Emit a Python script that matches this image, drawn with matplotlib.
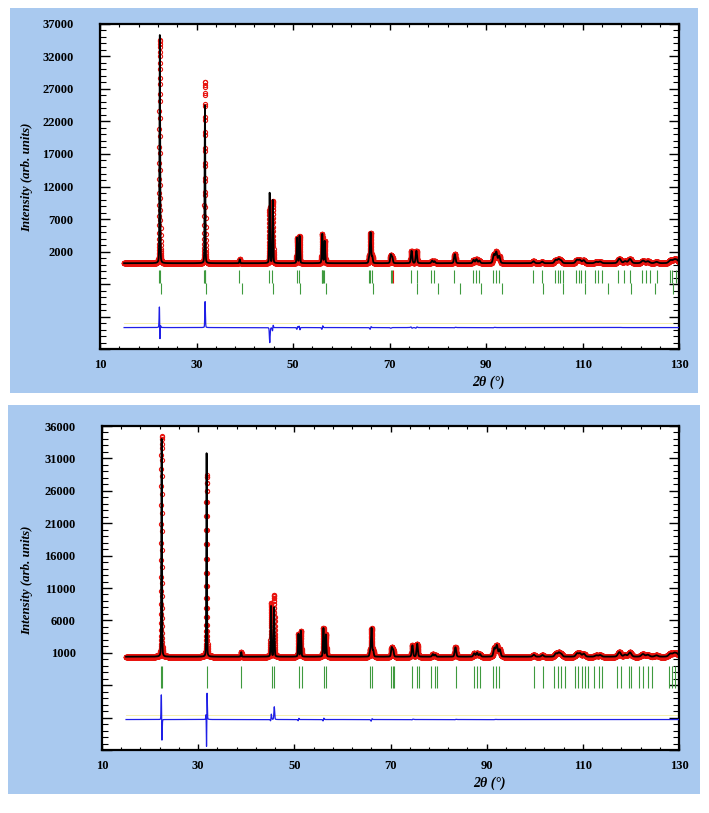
import numpy as np
import matplotlib.pyplot as plt
from matplotlib.patches import Rectangle
from matplotlib.ticker import FixedLocator, FixedFormatter, MultipleLocator

# Measurement grid (2theta, degrees)
tt_start, tt_end, tt_step = 15.0, 130.0, 0.01

# Upper pattern: reflections
top_pos = [22.40, 31.75, 38.95, 45.15, 45.80, 50.85, 51.35, 56.05, 56.55,
           65.75, 66.05, 66.40, 70.25, 70.55, 74.55, 75.55, 78.80, 79.30,
           83.50, 87.40, 88.00, 88.60, 91.60, 92.10, 92.70, 99.80, 101.60,
           104.40, 105.00, 105.50, 108.80, 109.40, 110.20, 112.80, 113.60,
           117.60, 118.80, 119.80, 122.50, 123.50, 125.30, 128.20, 129.00, 129.60]
top_obs = [34300, 28000, 600, 8600, 9600, 3800, 4100, 4500, 3400,
           800, 4600, 1000, 1200, 900, 1900, 1900, 400, 300,
           1400, 500, 600, 400, 1300, 1700, 1100, 300, 250,
           500, 600, 400, 500, 500, 450, 200, 250,
           700, 300, 650, 400, 300, 200, 450, 500, 400]
top_calc = [35100, 24300, 600, 10800, 9700, 3900, 4200, 4500, 3400,
            800, 4700, 1000, 1300, 900, 1900, 1900, 400, 300,
            1400, 500, 600, 400, 1300, 1700, 1100, 300, 250,
            500, 600, 400, 500, 500, 450, 200, 250,
            700, 300, 650, 400, 300, 200, 450, 500, 400]
top_shift = [-0.007, 0.004, 0, -0.006, 0.006, 0.008, -0.01, 0.01, 0,
             0, 0.008, 0, 0, 0, -0.012, 0.012, 0, 0,
             0.008, 0, 0, 0, 0.008, 0, 0, 0, 0,
             0, 0, 0, 0, 0, 0, 0, 0,
             0.012, 0, 0, 0, 0, 0, 0, 0, 0]
top_fwhm = [0.16, 0.16, 0.18, 0.19, 0.19, 0.21, 0.21, 0.23, 0.23,
            0.26, 0.26, 0.26, 0.3, 0.3, 0.32, 0.32, 0.34, 0.34,
            0.36, 0.4, 0.4, 0.4, 0.44, 0.44, 0.44, 0.5, 0.5,
            0.55, 0.55, 0.55, 0.6, 0.6, 0.6, 0.65, 0.65,
            0.7, 0.7, 0.7, 0.75, 0.75, 0.75, 0.8, 0.8, 0.8]
top_fwhm_obs = list(top_fwhm)
top_fwhm_obs[0] = 0.172
top_bg = 200

# Bragg positions, upper pattern (two rows) and one extra tick
top_row1 = [22.3, 22.5, 31.55, 31.7, 31.85, 38.9, 45.1, 45.6, 50.8, 51.2,
            55.9, 56.1, 56.3, 56.5, 65.7, 66.0, 66.3, 70.2, 70.5, 74.5, 75.6,
            78.6, 79.2, 83.4, 87.3, 87.9, 88.5, 91.5, 92.0, 92.6, 99.8, 101.6,
            104.3, 104.8, 105.4, 106.0, 108.6, 109.2, 109.7, 110.5, 112.5,
            113.2, 113.9, 117.3, 118.6, 119.9, 122.2, 123.1, 124.0, 125.4,
            128.0, 128.6, 129.3, 129.8]
top_row2 = [22.6, 32.0, 39.4, 45.9, 51.5, 56.8, 66.6, 75.7, 80.1, 84.6,
            89.0, 93.3, 101.8, 106.0, 110.5, 115.3, 120.0, 125.0, 128.8]
top_red = [70.7]

# Lower pattern
bot_pos = top_pos
bot_obs = [34100, 28000, 700, 8300, 9500, 3500, 4000, 4400, 3400,
           800, 4300, 900, 1400, 1000, 1750, 2000, 400, 300,
           1450, 500, 600, 400, 1300, 1750, 1100, 300, 250,
           500, 600, 400, 500, 500, 450, 200, 250,
           700, 300, 650, 400, 300, 200, 450, 500, 400]
bot_calc = [33600, 31400, 700, 7800, 7600, 3500, 4000, 4400, 3400,
            800, 4400, 900, 1400, 1000, 1750, 2000, 400, 300,
            1450, 500, 600, 400, 1300, 1750, 1100, 300, 250,
            500, 600, 400, 500, 500, 450, 200, 250,
            700, 300, 650, 400, 300, 200, 450, 500, 400]
bot_shift = [-0.012, 0.01, 0, 0.008, 0.005, 0.008, 0, 0.008, 0,
             0, 0.008, 0, 0, 0, 0.008, 0, 0, 0,
             0.006, 0, 0, 0, 0.006, 0, 0, 0, 0,
             0, 0, 0, 0, 0, 0, 0, 0,
             0, 0, 0, 0, 0, 0, 0, 0, 0]
bot_fwhm_obs = list(top_fwhm)
bot_fwhm_obs[1] = 0.17
bot_fwhm_calc = list(top_fwhm)
bot_fwhm_calc[1] = 0.145
bot_bg = 400

bot_ticks = [22.3, 22.5, 31.8, 39.0, 45.3, 45.8, 50.9, 51.5, 56.1, 56.6,
             65.7, 66.2, 70.1, 70.5, 70.8, 74.4, 75.6, 76.0, 78.5, 79.2, 79.6,
             83.6, 87.3, 88.0, 88.6, 91.4, 92.0, 92.6, 99.8, 101.8,
             104.0, 104.8, 105.4, 106.2, 108.3, 109.0, 109.9, 110.5, 111.0,
             112.4, 113.3, 114.0, 117.2, 118.0, 119.6, 120.1,
             121.7, 122.5, 123.5, 124.4, 128.0, 128.5, 129.2]

x_major = [10, 30, 50, 70, 90, 110, 130]


def pattern(x, pos, height, fwhm, shift, bg):
    # pseudo-Voigt peaks on a flat background
    y = np.full_like(x, float(bg))
    for p, h, w, s in zip(pos, height, fwhm, shift):
        u = x - p - s
        g = np.exp(-4 * np.log(2) * (u / w) ** 2)
        lor = 1.0 / (1.0 + (2 * u / w) ** 2)
        y += h * (0.8 * g + 0.2 * lor)
    return y


tt = np.arange(tt_start, tt_end + tt_step / 2, tt_step)

top_y_obs = pattern(tt, top_pos, top_obs, top_fwhm_obs, top_shift, top_bg)
top_y_calc = pattern(tt, top_pos, top_calc, top_fwhm, [0] * len(top_pos), top_bg)
bot_y_obs = pattern(tt, bot_pos, bot_obs, bot_fwhm_obs, bot_shift, bot_bg)
bot_y_calc = pattern(tt, bot_pos, bot_calc, bot_fwhm_calc, [0] * len(bot_pos), bot_bg)

plt.rcParams['font.family'] = 'Liberation Serif'
plt.rcParams['font.weight'] = 'bold'
plt.rcParams['font.size'] = 9

blue_bg = '#a9c9ef'
tick_green = '#3f9a3f'

fig = plt.figure(figsize=(7.09, 8.13), dpi=100)
fig.add_artist(Rectangle((0.0141, 0.5166), 0.9704, 0.4736, transform=fig.transFigure,
                         facecolor=blue_bg, edgecolor='none', zorder=-10))
fig.add_artist(Rectangle((0.0113, 0.0234), 0.976, 0.4785, transform=fig.transFigure,
                         facecolor=blue_bg, edgecolor='none', zorder=-10))

ax1 = fig.add_axes([0.141, 0.5707, 0.817, 0.3998])
ax2 = fig.add_axes([0.1439, 0.0775, 0.8138, 0.3985])


def setup(ax, ymin, ymax, first_label):
    ax.set_facecolor('white')
    ax.set_xlim(10, 130)
    ax.set_ylim(ymin, ymax)
    ax.xaxis.set_major_locator(FixedLocator(x_major))
    ax.xaxis.set_minor_locator(MultipleLocator(4, offset=2))
    yt = np.arange(ymin, ymax + 1, 5000)
    ax.yaxis.set_major_locator(FixedLocator(yt))
    ax.yaxis.set_major_formatter(FixedFormatter([str(int(v)) if v >= first_label else '' for v in yt]))
    ax.yaxis.set_minor_locator(MultipleLocator(1000))
    ax.tick_params(axis='both', which='both', direction='in', top=True, right=True, width=1)
    ax.tick_params(axis='y', which='major', length=7, pad=19)
    ax.tick_params(axis='y', which='minor', length=4.5, width=0.8)
    ax.tick_params(axis='x', which='major', length=4, pad=7)
    ax.tick_params(axis='x', which='minor', length=2.5, width=0.8)
    for sp in ax.spines.values():
        sp.set_linewidth(1.6)
    ax.set_ylabel('Intensity (arb. units)', fontweight='bold', fontstyle='italic', fontsize=9.3)
    ax.set_xlabel('2θ (°)', fontweight='bold', fontstyle='italic', fontsize=10)


# Upper panel
setup(ax1, -13000, 37000, 2000)
ax1.plot(tt, top_y_obs, 'o', ms=3, mfc='none', mec='#e8140f', mew=0.8, zorder=2)
ax1.plot(tt, top_y_calc, '-', color='black', lw=1.3, zorder=3)
ax1.vlines(top_row1, -2800, -900, color=tick_green, lw=0.8, zorder=2)
ax1.vlines(top_row2, -4500, -2800, color=tick_green, lw=0.8, zorder=2)
ax1.vlines(top_red, -2800, -900, color='#e8140f', lw=0.8, zorder=2)
ax1.axhline(-9700 + 700, xmin=(tt_start - 10) / 120, color='#f3eca0', lw=0.6, zorder=1)
ax1.plot(tt, top_y_obs - top_y_calc - 9700, '-', color='#1f1fe6', lw=0.9, zorder=3)
ax1.xaxis.set_label_coords(0.671, -0.08)
ax1.yaxis.set_label_coords(-0.116, 0.528)

# Lower panel
setup(ax2, -14000, 36000, 1000)
ax2.plot(tt, bot_y_obs, 'o', ms=3, mfc='none', mec='#e8140f', mew=0.8, zorder=2)
ax2.plot(tt, bot_y_calc, '-', color='black', lw=1.3, zorder=3)
ax2.vlines(bot_ticks, -4400, -1000, color=tick_green, lw=0.8, zorder=2)
ax2.axhline(-9300 + 700, xmin=(tt_start - 10) / 120, color='#f3eca0', lw=0.6, zorder=1)
ax2.plot(tt, bot_y_obs - bot_y_calc - 9300, '-', color='#1f1fe6', lw=0.9, zorder=3)
ax2.xaxis.set_label_coords(0.672, -0.083)
ax2.yaxis.set_label_coords(-0.12, 0.525)

fig.savefig('out.png', dpi=100, facecolor='white')
